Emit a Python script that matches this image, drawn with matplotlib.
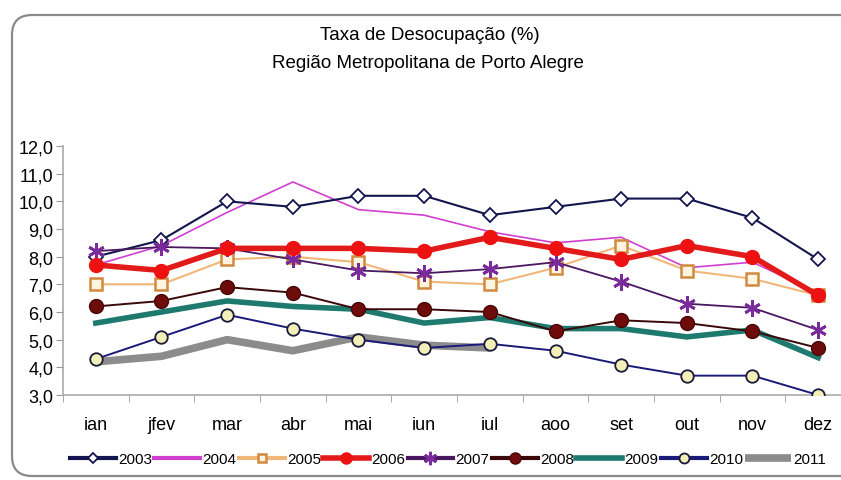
import matplotlib
matplotlib.use("Agg")
import matplotlib.pyplot as plt
from matplotlib.patches import FancyBboxPatch
import numpy as np

plt.rcParams['font.family'] = ['Liberation Sans', 'DejaVu Sans']

months = ["ian", "jfev", "mar", "abr", "mai", "iun", "iul", "aoo", "set", "out", "nov", "dez"]
y_ticks = [3, 4, 5, 6, 7, 8, 9, 10, 11, 12]

s2003 = [8.0, 8.6, 10.0, 9.8, 10.2, 10.2, 9.5, 9.8, 10.1, 10.1, 9.4, 7.9]
s2004 = [7.7, 8.4, 9.6, 10.7, 9.7, 9.5, 8.9, 8.5, 8.7, 7.6, 7.8, 6.7]
s2005 = [7.0, 7.0, 7.9, 8.0, 7.8, 7.1, 7.0, 7.6, 8.4, 7.5, 7.2, 6.6]
s2006 = [7.7, 7.5, 8.3, 8.3, 8.3, 8.2, 8.7, 8.3, 7.9, 8.4, 8.0, 6.6]
s2007 = [8.2, 8.35, 8.3, 7.9, 7.5, 7.4, 7.55, 7.8, 7.1, 6.3, 6.15, 5.35]
s2008 = [6.2, 6.4, 6.9, 6.7, 6.1, 6.1, 6.0, 5.3, 5.7, 5.6, 5.3, 4.7]
s2009 = [5.6, 6.0, 6.4, 6.2, 6.1, 5.6, 5.8, 5.4, 5.4, 5.1, 5.35, 4.35]
s2010 = [4.3, 5.1, 5.9, 5.4, 5.0, 4.7, 4.85, 4.6, 4.1, 3.7, 3.7, 3.0]
s2011 = [4.2, 4.4, 5.0, 4.6, 5.1, 4.8, 4.7]

fig = plt.figure(figsize=(8.41, 4.81), dpi=100)

# rounded frame
frame = FancyBboxPatch((12, 4), 860, 461, boxstyle="round,pad=0,rounding_size=20",
                       transform=None, facecolor="none", edgecolor="#8a8a8a", lw=1.6)
fig.patches.append(frame)

ax = fig.add_axes([63/841, 85/481, 788/841, 249/481])
x = np.arange(len(months))

asterisk = (6, 2, 0)
styles = [
    ("2003", s2003, dict(color="#14144e", lw=1.5, marker="D", ms=7, mfc="white", mec="#14144e", mew=1.3, zorder=5)),
    ("2004", s2004, dict(color="#d040d0", lw=1.2, zorder=4)),
    ("2005", s2005, dict(color="#f0b878", lw=1.5, marker="s", ms=8, mfc="#fff4e0", mec="#d08a40", mew=1.8, zorder=4)),
    ("2006", s2006, dict(color="#e21a1a", lw=4.0, marker="o", ms=10, mfc="#ee1111", mec="#ee1111", zorder=6)),
    ("2007", s2007, dict(color="#4a1860", lw=1.3, marker=asterisk, ms=12, mec="#7a2a9a", mew=2.0, zorder=5)),
    ("2008", s2008, dict(color="#3a0808", lw=1.4, marker="o", ms=10, mfc="#6e0c0c", mec="#4a0606", zorder=5)),
    ("2009", s2009, dict(color="#1e7a6e", lw=4.0, zorder=3)),
    ("2010", s2010, dict(color="#1a1a78", lw=1.4, marker="o", ms=9, mfc="#f2f0b8", mec="#1a1a3a", mew=1.3, zorder=5)),
    ("2011", s2011, dict(color="#8c8c8c", lw=5.5, solid_capstyle="butt", zorder=4)),
]

handles = []
for name, vals, kw in styles:
    ln, = ax.plot(x[:len(vals)], vals, label=name, **kw)
    handles.append(ln)

ax.set_xlim(-0.5, 11.5)
ax.set_ylim(3, 12)
ax.set_yticks(y_ticks)
ax.set_yticklabels([f"{v:.1f}".replace(".", ",") for v in y_ticks], fontsize=13)
ax.set_xticks(x)
ax.set_xticklabels(months, fontsize=13)
ax.set_xticks(np.arange(-0.5, 12, 1), minor=True)
ax.tick_params(axis="x", which="major", length=0, pad=15)
ax.tick_params(axis="x", which="minor", length=5, color="#999999", direction="out")
ax.tick_params(axis="y", length=5, color="#999999", pad=2)
for s in ["top", "right"]:
    ax.spines[s].set_visible(False)
for s in ["left", "bottom"]:
    ax.spines[s].set_color("#aaaaaa")
    ax.spines[s].set_linewidth(1.2)

fig.text(430/841, 1 - 36/481, "Taxa de Desocupação (%)", ha="center", va="center", fontsize=13.5)
fig.text(428/841, 1 - 63/481, "Região Metropolitana de Porto Alegre", ha="center", va="center", fontsize=13.5)

leg = fig.legend(handles=handles, loc="center", bbox_to_anchor=(448/841, 1 - 460/481), ncol=9,
                 frameon=False, fontsize=11, handlelength=3.0, handletextpad=0.15, columnspacing=0.15,
                 markerscale=0.8, borderaxespad=0, borderpad=0)
for lh in leg.get_lines():
    lh.set_linewidth(max(lh.get_linewidth(), 3.0))

fig.savefig("out.png", dpi=100)
